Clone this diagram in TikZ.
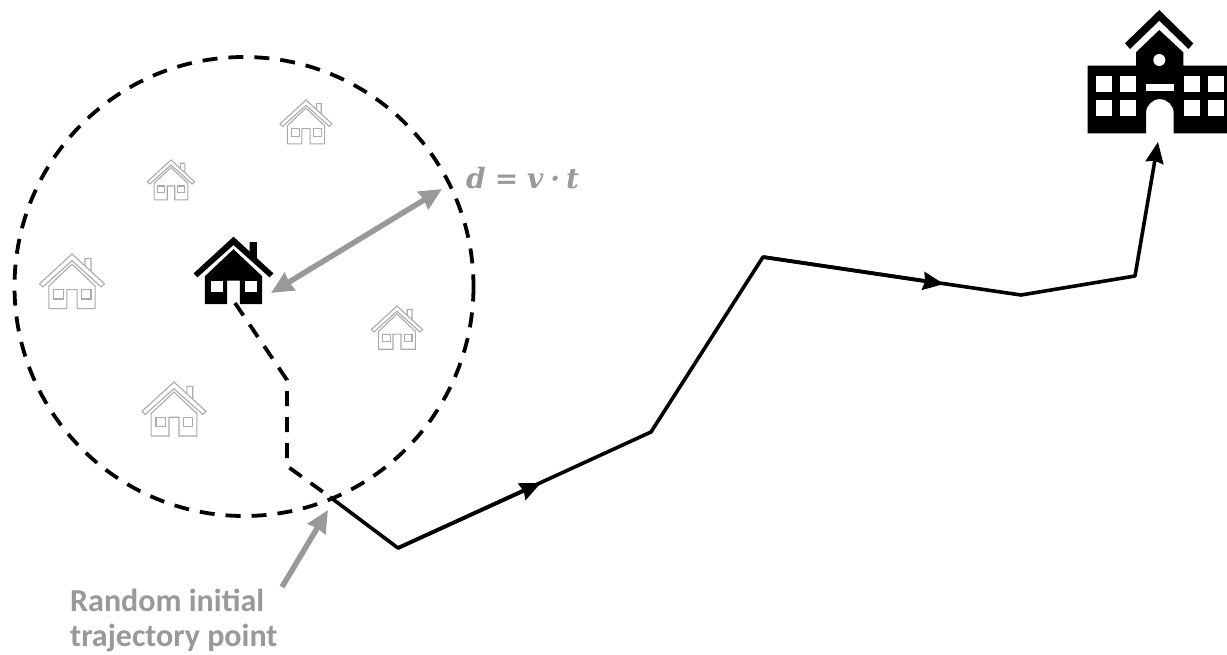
\documentclass[tikz,border=0pt]{standalone}
\usepackage{fontspec}
\setmainfont{Carlito}
\newfontfamily\formulafont{DejaVu Serif}
\usepackage{xcolor}
\usetikzlibrary{arrows.meta}
\definecolor{softgray}{RGB}{170,170,170}
\definecolor{labelgray}{RGB}{153,153,153}
\tikzset{
  trajline/.style={black,line width=3.6pt,line join=round},
  headline/.style={-{Stealth[length=21pt,width=18pt,inset=2pt]}},
  dashline/.style={black,line width=3.8pt,dash pattern=on 15pt off 11pt},
  grayarrow/.style={labelgray,line width=5.5pt},
  graytip/.tip={Stealth[length=22pt,width=20pt,inset=1pt]},
  solidhouse/.style={fill=black,draw=none},
  palehouse/.style={fill=white,draw=softgray,line width=1.1pt},
  house/.pic={
    % apex of the roof = (0,0), black house size at scale 1
    \path[pic actions] (16,5.5) -- (23.4,5.5) -- (23.4,23) -- (16,17) -- cycle;
    \path[pic actions] (0,0) -- (40,36.7) -- (36,40.6) -- (0,8.3) -- (-36,40.6) -- (-40,36.7) -- cycle;
    \path[pic actions] (0,12.5) -- (28.6,39.5) -- (28.6,67.5) -- (6.3,67.5) -- (6.3,44) -- (-6.3,44) -- (-6.3,67.5) -- (-28.6,67.5) -- (-28.6,39.5) -- cycle;
    \path[pic actions,fill=white] (-22.5,44) rectangle (-10.5,55.5);
    \path[pic actions,fill=white] (11.5,44) rectangle (23.5,55.5);
  }
}

\begin{document}
\begin{tikzpicture}[x=1pt,y=-1pt]
  \useasboundingbox (0,0) rectangle (1227,654);
  % pale houses inside the circle
  \foreach \cx/\cy/\s in {72/254/0.81,174/382/0.80,306/100/0.65,171/160/0.59,397/306/0.64} {
    \pic[palehouse,scale=\s] at (\cx,\cy) {house};
  }
  \pic[solidhouse] at (233.5,236.7) {house};
  % school
  \fill[black] (1159.3,10) -- (1193.3,43.3) -- (1188.5,49) -- (1159.3,20.7) -- (1130,49) -- (1125,43.3) -- cycle;
  \fill[black] (1159.3,30) -- (1183.3,52.3) -- (1183.3,65.7) -- (1227,65.7) -- (1227,133.3) -- (1173.7,133.3) -- (1173.7,113) arc[start angle=0,end angle=-180,radius=13.85] -- (1146,133.3) -- (1087.7,133.3) -- (1087.7,65.7) -- (1136,65.7) -- (1136,52.3) -- cycle;
  \fill[white] (1159.3,60) circle (6);
  \fill[white] (1146,83.7) rectangle (1173.7,91.3);
  \foreach \wx in {1096,1120,1183.7,1207.7} \foreach \wy in {75.7,100} {
    \fill[white] (\wx,\wy) rectangle ++(16,16);
  }
  % trajectory
  \coordinate (doorstep) at (235,303);
  \coordinate (bendA) at (287,380);
  \coordinate (bendB) at (287,466);
  \coordinate (start) at (330,497);
  \coordinate (low) at (398,548);
  \coordinate (midA) at (541,483);
  \coordinate (rise) at (651,432);
  \coordinate (peak) at (763,257);
  \coordinate (midB) at (944,284);
  \coordinate (dip) at (1021,295);
  \coordinate (knee) at (1135,276);
  \coordinate (school) at (1158,142);
  \coordinate (centre) at (244,286.5);
  \coordinate (rimtip) at (442,189);
  \coordinate (housetip) at (271,293);
  \coordinate (labeltail) at (282,587);
  \coordinate (starttip) at (328,510);
  \draw[dashline] (centre) circle (229.5);
  \draw[dashline] (doorstep) -- (bendA) -- (bendB) -- (start);
  \draw[trajline,headline] (start) -- (low) -- (rise) -- (peak) -- (dip) -- (knee) -- (school);
  \draw[trajline,headline] (low) -- (midA);
  \draw[trajline,headline] (peak) -- (midB);
  % gray labels
  \draw[grayarrow,graytip-graytip] (rimtip) -- (housetip);
  \draw[grayarrow,-graytip] (labeltail) -- (starttip);
  \node[anchor=base west,inner sep=0pt,labelgray,font=\formulafont\fontsize{28}{28}\selectfont\bfseries\itshape] (formula) at (466,188) {d\hspace{9pt}=\hspace{9pt}v\hspace{7pt}·\hspace{6pt}t};
  \node[anchor=north west,inner sep=0pt,align=left,labelgray,font=\fontsize{32}{34.5}\selectfont\bfseries] (pointlabel) at (70,589) {Random initial\\trajectory point};
\end{tikzpicture}
\end{document}
